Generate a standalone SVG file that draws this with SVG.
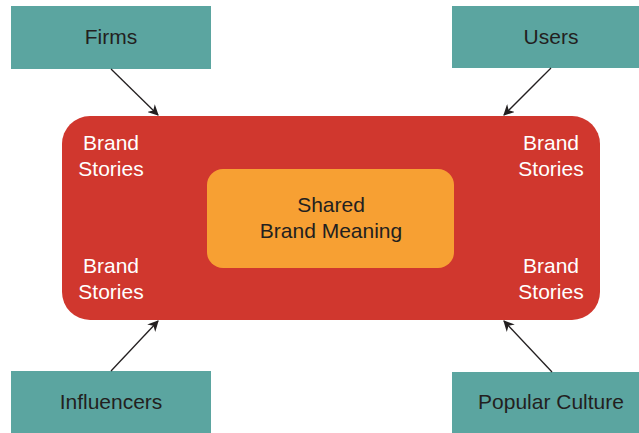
<svg xmlns="http://www.w3.org/2000/svg" width="639" height="433" viewBox="0 0 639 433">
  <style>
    .src { fill: #5ba5a0; }
    .label { font-family: "Liberation Sans", Arial, sans-serif; font-size: 21px; text-anchor: middle; fill: #231f20; }
    .story { font-family: "Liberation Sans", Arial, sans-serif; font-size: 21px; text-anchor: middle; fill: #ffffff; }
    .conn { stroke: #231f20; stroke-width: 1.3; fill: none; marker-end: url(#arrow); }
  </style>
  <defs>
    <marker id="arrow" viewBox="0 0 10 10" refX="9" refY="5" markerWidth="11" markerHeight="11" markerUnits="userSpaceOnUse" orient="auto">
      <path d="M0,0 L10,5 L0,10 L3,5 Z" fill="#231f20"/>
    </marker>
  </defs>
  <rect width="639" height="433" fill="#ffffff"/>

  <!-- central brand container -->
  <g id="brand-stories">
    <rect x="62" y="116" width="538" height="204" rx="28" fill="#d0372e"/>
    <text class="story" x="111" y="150">Brand</text>
    <text class="story" x="111" y="176">Stories</text>
    <text class="story" x="551" y="150">Brand</text>
    <text class="story" x="551" y="176">Stories</text>
    <text class="story" x="111" y="273">Brand</text>
    <text class="story" x="111" y="299">Stories</text>
    <text class="story" x="551" y="273">Brand</text>
    <text class="story" x="551" y="299">Stories</text>
  </g>

  <g id="shared-meaning">
    <rect x="207" y="169" width="247" height="99" rx="16" fill="#f7a033"/>
    <text class="label" x="331" y="212">Shared</text>
    <text class="label" x="331" y="238">Brand Meaning</text>
  </g>

  <!-- contributing sources -->
  <g id="firms">
    <rect class="src" x="11" y="6" width="200" height="63"/>
    <text class="label" x="111" y="44">Firms</text>
  </g>
  <g id="users">
    <rect class="src" x="452" y="6" width="187" height="62"/>
    <text class="label" x="551" y="44">Users</text>
  </g>
  <g id="influencers">
    <rect class="src" x="11" y="371" width="200" height="62"/>
    <text class="label" x="111" y="409">Influencers</text>
  </g>
  <g id="popular-culture">
    <rect class="src" x="452" y="372" width="187" height="61"/>
    <text class="label" x="551" y="409">Popular Culture</text>
  </g>

  <g id="connectors">
    <line class="conn" x1="111" y1="69" x2="158" y2="115"/>
    <line class="conn" x1="551" y1="68" x2="504" y2="115"/>
    <line class="conn" x1="111" y1="371" x2="158" y2="321"/>
    <line class="conn" x1="552" y1="372" x2="504" y2="321"/>
  </g>
</svg>
